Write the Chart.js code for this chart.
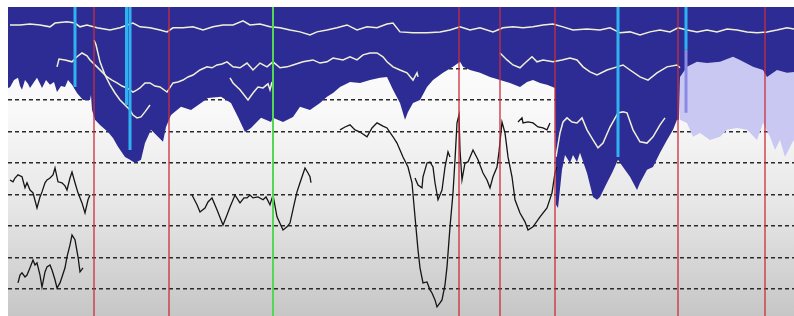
<!DOCTYPE html>
<html>
<head>
<meta charset="utf-8">
<script src="https://cdn.jsdelivr.net/npm/chart.js@4.4.0/dist/chart.umd.min.js"></script>
<style>
  html, body { margin: 0; padding: 0; background: #fff; }
  #wrap { width: 794px; height: 316px; }
</style>
</head>
<body>
<div id="wrap"><canvas id="profileChart" width="794" height="316"></canvas></div>
<script>
// trace number / depth (depth grows downwards)
const depthMin = 0.5;
const depthMax = 98.6;
const traceMax = 786;
const gridDepths = [10, 20, 30, 40, 50, 60, 70, 80, 90];

// lower edge of the dark blue layer
const blueEdge = [[0,26.2],[2,26],[6,23.7],[10,23],[12,25.6],[14,26.8],[17,23.7],[20,24.9],[22,26.2],[26,24.3],[29,23],[32,24.9],[34,26.2],[38,23.7],[42,25.2],[46,24.3],[49,27.5],[53,25.6],[57,25.9],[60,23.7],[64,25.2],[69,27.8],[75,30],[82,30],[83,28.4],[84,33.2],[87,36.3],[92,38],[100,40.2],[105,42.1],[110,44.9],[117,48.1],[122,49],[127,50],[133,49],[137,43.7],[143,39.5],[150,41.7],[155,43.3],[158,38.6],[163,34.8],[173,32.2],[183,33.2],[193,31],[200,29.4],[213,29],[223,31],[230,35.4],[237,40.2],[243,38.9],[253,35.7],[263,37],[265,35.7],[275,37],[285,35.4],[292,32.2],[302,33.2],[312,31],[319,29],[325,27.8],[332,25.9],[342,24.3],[352,24.6],[362,23.7],[372,23],[379,22.7],[385,26.8],[392,31],[397,36.3],[400,33.8],[405,31],[412,30],[419,25.9],[425,23.7],[435,21.4],[445,19.5],[452,17.9],[455,19.5],[462,20.5],[472,21.4],[482,22.7],[492,23.7],[502,24.6],[512,25.9],[519,24.3],[525,23.7],[532,24.6],[539,25.2],[547,26.2],[548,63.3],[550,64.3],[554,52.2],[557,47.5],[562,50],[565,47.5],[569,49.7],[572,46.8],[579,53.2],[585,60.8],[589,61.7],[592,60.8],[599,56.3],[604,53.2],[610,49],[615,51.3],[622,54.4],[629,58.6],[632,56.3],[639,52.2],[645,51.3],[652,46.8],[659,42.7],[665,39.5],[669,36.3],[671,36.3],[672,22.7],[679,19.5],[689,17.9],[699,18.3],[712,17.9],[725,16.3],[732,17.3],[745,19.5],[755,20.5],[759,22.7],[769,20.5],[779,21.4],[786,21.1]];

// lower edge of the pale layer on the right
const paleEdge = [[672,36.3],[679,37.3],[685,41.7],[692,40.5],[702,42.7],[712,41.7],[719,39.5],[729,38.9],[739,39.5],[749,42.7],[755,37.3],[762,41.7],[767,45.9],[772,42.7],[777,48.1],[784,43.7],[786,42.7]];

// white horizons inside the blue layer
const horizonTop = [[2,6.2],[12,6.2],[22,5.9],[32,6.2],[42,6.8],[47,5.6],[59,5.2],[67,5.6],[72,6.8],[79,6.2],[89,7.1],[102,7.8],[112,7.1],[122,5.9],[125,5.6],[132,6.8],[142,7.1],[152,7.8],[159,8.4],[165,7.1],[175,7.1],[185,6.8],[195,7.8],[205,6.8],[215,6.2],[225,6.2],[235,4.9],[242,6.2],[252,5.9],[262,6.8],[272,7.1],[282,7.8],[292,8.4],[302,9.4],[309,8.4],[319,7.8],[329,7.1],[339,6.2],[349,7.8],[359,6.8],[369,7.1],[379,5.9],[385,5.6],[392,8.4],[405,8.7],[419,8.7],[432,8.4],[442,7.8],[452,6.8],[462,7.8],[472,7.1],[485,8.4],[495,7.1],[505,6.8],[515,7.1],[525,6.8],[535,6.2],[545,5.9],[555,6.8],[565,7.8],[579,7.5],[592,7.8],[602,7.1],[612,8.7],[622,8.4],[632,9.4],[642,8.4],[652,7.8],[662,8.4],[670,7.1],[679,7.8],[689,8.4],[699,7.8],[709,8.4],[719,7.5],[729,7.8],[739,8.4],[749,8.7],[759,8.4],[769,7.8],[779,7.1],[786,7.5]];
const horizonMidA = [[49,19.5],[51,17],[57,17.3],[64,17.9],[69,16.3],[74,15.1],[79,16],[82,17.3],[89,19.5],[94,21.1],[99,22.7],[104,23.7],[109,24.6],[114,25.6],[119,26.2],[125,27.5],[129,26.8],[132,26.2],[137,24.6],[142,24.6],[147,25.6],[152,25.9],[159,27.5],[165,24.6],[170,24.3],[175,23.7],[180,22.7],[185,22.1],[192,20.5],[199,19.5],[204,19.8],[209,18.9],[214,18.6],[219,17.9],[225,19.5],[232,19.8],[239,18.3],[245,20.5],[252,18.3],[259,19.5],[265,17.9],[272,19.8],[279,19.5],[285,18.9],[295,17.9],[305,17.3],[312,18.3],[319,17.9],[325,16.7],[335,17.3],[342,16.3],[349,17.3],[355,15.7],[362,15.1],[369,15.1],[375,16.3],[379,17.9],[385,19.5],[392,20.5],[399,21.4],[405,23.7],[409,21.4],[410,22.7]];
const horizonMidB = [[492,15.1],[499,17.3],[505,18.9],[512,19.8],[517,18.3],[524,16.3],[529,17.9],[535,17.3],[545,17.9],[554,17.3],[562,16.7],[569,17.3],[575,19.5],[582,21.1],[589,22.1],[599,20.5],[609,19.5],[615,18.9],[622,20.5],[632,22.7],[640,23.7],[649,21.4],[659,19.5],[669,18.9],[672,19.8]];
const horizonLowA = [[86,11],[88,12.5],[92,17.9],[97,22.1],[102,25.2],[107,27.8],[112,30],[117,31.6],[122,33.2],[125,34.8],[129,35.7],[133,35.4],[137,33.8],[142,31.6]];
const horizonLowB = [[222,23],[225,24.6],[232,26.8],[240,30],[245,27.8],[250,25.9],[255,26.2],[260,24.9],[262,26.8],[264,24.3]];
const horizonDeep = [[548,48.1],[552,40.5],[555,37],[559,35.7],[564,37],[569,37.3],[574,35.7],[579,39.5],[585,42.7],[590,45.2],[595,43.7],[602,38.6],[610,34.1],[615,33.8],[619,34.1],[625,39.5],[632,43.3],[639,43.7],[645,41.7],[652,37.9],[657,35.7]];

// black curves in the open part
const curveA = [[2,55.4],[5,56],[7,54.8],[10,53.8],[14,54.4],[17,57.9],[19,56.3],[22,58.6],[25,59.5],[29,64.3],[32,60.8],[34,59.2],[37,56.3],[39,55.4],[42,54.8],[45,53.8],[47,51.6],[50,56],[54,56.3],[57,57.3],[59,58.6],[62,54.8],[64,52.9],[67,56.3],[70,59.5],[74,62.7],[77,65.9],[80,61.7],[82,60.2]];
const curveB = [[10,88.1],[12,85.6],[14,84.9],[17,86.2],[19,85.6],[22,83.3],[25,80.8],[27,82.4],[29,81.7],[32,85.6],[34,89.4],[37,84.6],[39,83],[42,82.4],[44,84],[47,87.1],[49,89.7],[52,88.1],[54,86.2],[57,83.3],[59,79.8],[62,76],[64,72.9],[67,74.4],[70,79.8],[72,84.6],[75,83.3]];
const curveC = [[184,60.2],[189,63.3],[192,65.6],[197,64.3],[200,62.4],[204,61.1],[209,64.9],[215,69.7],[219,66.5],[222,64],[227,60.2],[232,62.7],[236,61.1],[239,61.1],[242,60.2],[245,61.1],[250,60.8],[255,61.7],[258,60.8],[262,63.3],[265,60.2],[269,67.1],[275,71.3],[279,70.3],[282,69.1],[286,63.3],[289,59.2],[292,56.3],[297,51.6],[300,53.2],[302,54.4],[303,56.3]];
const curveD = [[332,39.5],[337,38.6],[342,37.9],[347,39.5],[352,40.2],[359,41.7],[364,38.9],[369,37.3],[375,38.3],[379,38.9],[385,41.7],[389,43.7],[395,48.1],[400,51.3],[404,56.3],[407,67.1],[410,77.6],[412,83.3],[415,88.1],[419,87.8],[422,90.3],[424,91.3],[427,93.5],[429,95.7],[432,94.4],[434,93.5],[437,88.7],[439,83],[442,70.3],[445,59.5],[447,49.1],[449,37.3],[451,34.8],[452,45.9],[454,55.4],[457,50],[460,49.7],[465,45.9],[470,49],[475,53.2],[479,55.4],[482,57.9],[485,54.4],[489,51.3],[491,46.5],[494,37],[497,40.5],[500,48.1],[504,54.4],[507,61.7],[512,65.9],[517,68.7],[520,71.3],[525,70.3],[532,67.1],[539,64.3],[544,59.5],[547,53.2],[549,51.3]];
const curveE = [[407,54.8],[410,57],[414,57.9],[415,54.4],[419,50],[422,49.7],[425,51.3],[427,56.3],[430,61.7],[434,58.6],[437,51.3],[440,46.5],[442,48.1]];
const curveF = [[510,37],[514,35.7],[515,37.3],[520,37],[525,37.3],[530,38.6],[535,38.9],[539,39.5],[542,37.3]];

// vertical markers
const redTraces = [86, 161, 451, 492, 547, 670, 757];
const greenTraces = [265];
const cyanTraces = [67, 118.5, 122, 610, 678];
const cyanDepths = [25.9, 31.6, 45.9, 48.1, 14.1];
const fadedTrace = 678;
const fadedDepth = [14.1, 34.1];

function pts(list) {
  return list.map(function (p) { return { x: p[0], y: p[1] }; });
}

function line(list, color, width, order) {
  return { data: pts(list), borderColor: color, borderWidth: width, pointRadius: 0, fill: false, order: order };
}

const datasets = [];

datasets.push({ data: pts(paleEdge), borderWidth: 0, backgroundColor: '#c8c8f3', fill: 'end', pointRadius: 0, order: 20 });
datasets.push({ data: pts(blueEdge), borderWidth: 0, backgroundColor: '#2c2c94', fill: 'end', pointRadius: 0, order: 19 });

[horizonTop, horizonMidA, horizonMidB, horizonLowA, horizonLowB, horizonDeep].forEach(function (h) {
  datasets.push(line(h, '#f1f1d8', 1.5, 10));
});
[curveA, curveB, curveC, curveD, curveE, curveF].forEach(function (c) {
  datasets.push(line(c, '#151515', 1.3, 10));
});

redTraces.forEach(function (t) {
  datasets.push(line([[t, depthMin], [t, depthMax]], 'rgba(205,45,60,0.65)', 2, 5));
});
greenTraces.forEach(function (t) {
  datasets.push(line([[t, depthMin], [t, depthMax]], '#55d655', 2, 4));
});
datasets.push(line([[fadedTrace, fadedDepth[0]], [fadedTrace, fadedDepth[1]]], '#8a8ae6', 3, 3));
cyanTraces.forEach(function (t, i) {
  datasets.push(line([[t, depthMin], [t, cyanDepths[i]]], '#2fb2f2', 3, 2));
});

const backdrop = {
  id: 'backdrop',
  beforeDraw: function (chart) {
    const a = chart.chartArea;
    const ctx = chart.ctx;
    const g = ctx.createLinearGradient(0, a.top, 0, a.bottom);
    g.addColorStop(0, '#ffffff');
    g.addColorStop(0.35, '#f8f8f8');
    g.addColorStop(0.65, '#e6e6e6');
    g.addColorStop(1, '#c6c6c6');
    ctx.save();
    ctx.fillStyle = g;
    ctx.fillRect(a.left, a.top, a.right - a.left, a.bottom - a.top);
    ctx.restore();
  }
};

new Chart(document.getElementById('profileChart').getContext('2d'), {
  type: 'line',
  data: { datasets: datasets },
  options: {
    responsive: false,
    animation: false,
    devicePixelRatio: 1,
    layout: { padding: { top: 7, left: 8, right: 0, bottom: 0 } },
    elements: { line: { tension: 0 } },
    plugins: { legend: { display: false }, tooltip: { enabled: false } },
    scales: {
      x: { type: 'linear', min: 0, max: traceMax, display: false },
      y: {
        type: 'linear',
        reverse: true,
        min: depthMin,
        max: depthMax,
        afterBuildTicks: function (axis) {
          axis.ticks = gridDepths.map(function (v) { return { value: v }; });
        },
        ticks: { display: false },
        border: { display: false, dash: [4, 3] },
        grid: { color: '#2a2a2a', lineWidth: 1.4, drawTicks: false }
      }
    }
  },
  plugins: [backdrop]
});
</script>
</body>
</html>
